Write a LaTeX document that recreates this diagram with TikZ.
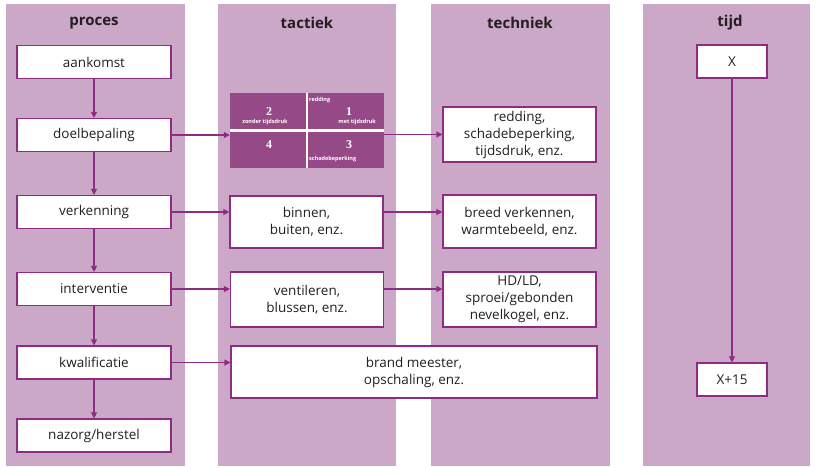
\documentclass[tikz,border=0pt]{standalone}
\usepackage{fontspec}
\setmainfont{Open Sans}
\newfontfamily\cijferfont{Liberation Serif}
\usetikzlibrary{arrows.meta,positioning}

\definecolor{kolomkleur}{HTML}{CBA8C8}
\definecolor{paars}{HTML}{8E2C84}
\definecolor{vlakkleur}{HTML}{954A87}
\definecolor{tekstkleur}{HTML}{231F20}

\tikzset{
  kolom/.style={fill=kolomkleur, inner sep=0pt, minimum height=462pt},
  kop/.style={font=\bfseries\fontsize{15}{17}\selectfont, text=tekstkleur},
  blok/.style={draw=paars, line width=1.1pt, fill=white, align=center, inner sep=0pt,
    font=\fontsize{13.5}{17}\selectfont, text=tekstkleur},
  pijl/.style={draw=paars, line width=1.1pt, -{Triangle[length=6pt,width=6pt]}},
  cijfer/.style={text=white, font=\cijferfont\bfseries\fontsize{12}{12}\selectfont, inner sep=0pt},
  klein/.style={text=white, font=\bfseries\fontsize{5.5}{6}\selectfont, inner sep=0pt},
}

\begin{document}
\begin{tikzpicture}[x=1pt, y=-1pt]
  \useasboundingbox (0,0) rectangle (815,467);

  % kolommen
  \node[kolom, minimum width=179pt] (kproces) at (95.5,235) {};
  \node[kolom, minimum width=178pt] (ktactiek) at (307,235) {};
  \node[kolom, minimum width=179pt] (ktechniek) at (520.5,235) {};
  \node[kolom, minimum width=167pt] (ktijd) at (726.5,235) {};

  \node[kop] (hproces) at (94,23) {proces};
  \node[kop] (htactiek) at (307,23) {tactiek};
  \node[kop] (htechniek) at (520,23) {techniek};
  \node[kop] (htijd) at (730,23) {tijd};

  % proces
  \node[blok, minimum width=154pt, minimum height=33pt] (aank) at (94,62) {aankomst};
  \node[blok, minimum width=154pt, minimum height=33pt] (doel) at (94,135) {doelbepaling};
  \node[blok, minimum width=154pt, minimum height=33pt] (verk) at (94,212) {verkenning};
  \node[blok, minimum width=154pt, minimum height=33pt] (inter) at (94,289) {interventie};
  \node[blok, minimum width=154pt, minimum height=33pt] (kwal) at (94,362.5) {kwalificatie};
  \node[blok, minimum width=154pt, minimum height=33pt] (nazorg) at (94,435.5) {nazorg/herstel};

  % tactiek
  \node[fill=vlakkleur, inner sep=0pt, minimum width=154pt, minimum height=75pt] (mat) at (307,130.5) {};
  \draw[white, line width=2.5pt] (mat.north) -- (mat.south);
  \draw[white, line width=2.5pt] (mat.west) -- (mat.east);
  \node[cijfer] (q2) at (269,112) {2};
  \node[cijfer] (q1) at (349,112) {1};
  \node[cijfer] (q4) at (269,145) {4};
  \node[cijfer] (q3) at (349,145) {3};
  \node[klein] (lzonder) at (265,122) {zonder tijdsdruk};
  \node[klein, anchor=east] (lmet) at (376,122) {met tijdsdruk};
  \node[klein, anchor=west] (lred) at (309,100) {redding};
  \node[klein, anchor=west] (lschade) at (309,159) {schadebeperking};

  \node[blok, minimum width=153pt, minimum height=52pt] (binnen) at (306.5,222) {binnen,\\buiten, enz.};
  \node[blok, minimum width=153pt, minimum height=55pt] (vent) at (307,299.5) {ventileren,\\blussen, enz.};
  \node[blok, minimum width=366pt, minimum height=52pt] (brand) at (414,372) {brand meester,\\opschaling, enz.};

  % techniek
  \node[blok, minimum width=153pt, minimum height=55pt] (redd) at (519.5,134.5) {redding,\\schadebeperking,\\tijdsdruk, enz.};
  \node[blok, minimum width=153pt, minimum height=53pt] (breed) at (519.5,221.5) {breed verkennen,\\warmtebeeld, enz.};
  \node[blok, minimum width=153pt, minimum height=55pt] (hdld) at (519.5,299.5) {HD/LD,\\sproei/gebonden\\nevelkogel, enz.};

  % tijd
  \node[blok, minimum width=70pt, minimum height=33pt] (tx) at (732,61.5) {X};
  \node[blok, minimum width=70pt, minimum height=33pt] (tx15) at (732,379.5) {X+15};

  % pijlen
  \draw[pijl] (aank) -- (doel);
  \draw[pijl] (doel) -- (verk);
  \draw[pijl] (verk) -- (inter);
  \draw[pijl] (inter) -- (kwal);
  \draw[pijl] (kwal) -- (nazorg);
  \draw[pijl] (tx) -- (tx15);

  \draw[pijl] (doel.east) -- (doel.east -| mat.west);
  \draw[pijl] (mat.east |- redd.west) -- (redd.west);
  \draw[pijl] (verk.east) -- (verk.east -| binnen.west);
  \draw[pijl] (binnen.east |- verk.east) -- (breed.west |- verk.east);
  \draw[pijl] (inter.east) -- (inter.east -| vent.west);
  \draw[pijl] (vent.east |- inter.east) -- (hdld.west |- inter.east);
  \draw[pijl] (kwal.east) -- (kwal.east -| brand.west);
\end{tikzpicture}
\end{document}
